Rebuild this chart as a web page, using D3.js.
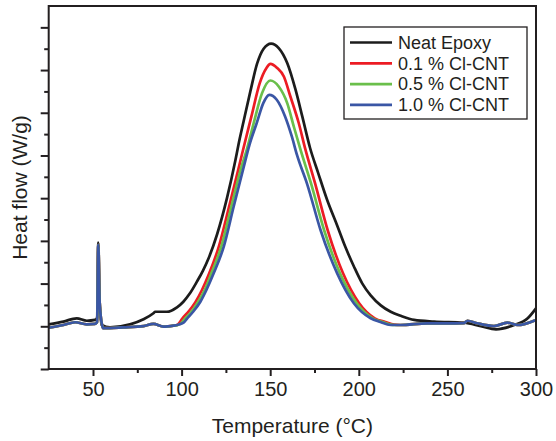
<!DOCTYPE html>
<html>
  <head>
    <meta charset="utf-8">
    <title>DSC Heat Flow</title>
    <script src="https://d3js.org/d3.v7.min.js"></script>
    <style>
      body { margin: 0; background: #fff; }
      svg text { font-family: "Liberation Sans", Arial, sans-serif; fill: #231f20; }
    </style>
  </head>
  <body>

<svg id="dsc-chart" width="556" height="441"></svg>

<script>

  // series names and colours (legend order)
  let seriesNames = ['Neat Epoxy', '0.1 % Cl-CNT', '0.5 % Cl-CNT', '1.0 % Cl-CNT'];
  let seriesColors = ['#1c1c1c', '#ec1c24', '#6abf4b', '#3a56a5'];

  // x axis ticks (temperature, deg C)
  let xMajorTicks = [50, 100, 150, 200, 250, 300];
  let xMinorTicks = [75, 125, 175, 225, 275];

  // y axis has no labels, arbitrary units, baseline at 0
  let yMajorTicks = [-2, 0, 2, 4, 6, 8, 10, 12, 14];
  let yMinorTicks = [-1, 1, 3, 5, 7, 9, 11, 13];

  // [temperature, heat flow]
  let neatEpoxy = [
    [25, 0.09], [33.3, 0.22], [40.8, 0.375], [46.5, 0.26], [51.1, 0.30], [52.3, 0.39],
    [53.0, 3.92], [53.7, 1.23], [54.9, 0.06], [59.6, -0.05], [70.9, 0.09], [78.5, 0.33],
    [84.1, 0.61], [85.1, 0.68], [91.7, 0.68], [97.4, 0.89], [101, 1.15], [104.5, 1.52],
    [108.7, 2.1], [112, 2.6], [115.3, 3.2], [120, 4.3], [125.6, 6.0], [130.3, 7.75], [132.2, 8.55],
    [135, 9.6], [138.8, 11.0], [142.6, 12.3], [146.3, 13.0], [150.5, 13.24], [154.8, 13.03],
    [159.6, 12.33], [164.3, 11.08], [168.1, 9.83], [172.5, 8.35], [177, 7.2], [182, 5.95],
    [187.9, 4.7], [192.5, 3.7], [197.3, 2.79], [202, 2.0], [206.7, 1.45], [212.4, 0.98],
    [218, 0.68], [224, 0.48], [231.2, 0.30], [242.5, 0.22], [259.4, 0.17], [268.9, 0.01],
    [277.4, -0.14], [287.7, 0.06], [295.3, 0.375], [300, 0.84]
  ];

  // the three Cl-CNT runs share the same start and tail
  let cntStart = [
    [25, -0.07], [33.3, 0.06], [39.9, 0.19], [46.5, 0.09], [51.1, 0.11], [52.3, 0.2],
    [53.0, 3.81], [53.7, 1.23], [54.8, 0.2], [55.8, -0.09], [67.1, -0.05], [78.5, 0.01],
    [84.1, 0.11], [89.8, -0.02], [95.4, 0.03]
  ];
  let cntEnd = [
    [223.5, 0.06], [238.6, 0.14], [249.9, 0.14], [259.2, 0.15], [261.3, 0.26], [266.9, 0.14],
    [276.3, 0.01], [283.9, 0.17], [289.5, 0.06], [300, 0.30]
  ];

  let cnt01Peak = [
    [97.4, 0.06], [98.5, 0.14], [100.3, 0.35], [104, 0.7], [107.7, 1.12], [111.5, 1.7],
    [115.6, 2.48], [121, 3.73], [126.8, 5.61], [132.4, 7.48], [134.7, 8.27], [139.4, 9.83],
    [144.1, 11.39], [147.9, 12.1], [150.1, 12.29], [153.9, 12.1], [157.7, 11.7], [161.4, 10.76],
    [166.1, 9.52], [169.9, 8.27], [175.3, 6.7], [182.4, 4.51], [191.1, 2.48], [200.2, 1.08],
    [209, 0.375], [215, 0.2], [220, 0.08]
  ];
  let cnt05Peak = [
    [97.4, 0.05], [99.8, 0.14], [101.8, 0.35], [105.5, 0.68], [109.1, 1.12], [113, 1.7],
    [116.8, 2.48], [122.4, 3.73], [128.1, 5.61], [133.8, 7.48], [136.8, 8.27], [140.7, 9.52],
    [145.4, 10.92], [150.1, 11.51], [154.8, 11.23], [159.6, 10.45], [163.3, 9.36], [167.1, 8.27],
    [173, 6.7], [180.4, 4.51], [189.4, 2.48], [198.8, 1.08], [207.8, 0.375], [213.5, 0.2],
    [219, 0.07]
  ];
  let cnt10Peak = [
    [97.4, 0.06], [101.1, 0.17], [103, 0.35], [106.5, 0.68], [110.6, 1.15], [114, 1.7],
    [118.1, 2.48], [123.8, 3.73], [129.4, 5.61], [135.1, 7.48], [138.3, 8.5], [142.4, 9.52],
    [146.1, 10.45], [149.5, 10.84], [153.7, 10.61], [158.4, 9.83], [162.2, 8.89], [165.2, 8.0],
    [170.9, 6.65], [178.4, 4.51], [187.8, 2.48], [197.2, 1.08], [206.7, 0.375], [212.2, 0.2],
    [217.9, 0.06]
  ];

  let seriesData = [
    neatEpoxy,
    cntStart.concat(cnt01Peak, cntEnd),
    cntStart.concat(cnt05Peak, cntEnd),
    cntStart.concat(cnt10Peak, cntEnd)
  ];

  drawChart();

  function drawChart() {
    let svg = d3.select('#dsc-chart');

    let margin = { top: 6, right: 20, bottom: 72, left: 48.7 };
    let plotWidth = 556 - margin.left - margin.right;   // right edge at 536
    let plotHeight = 441 - margin.top - margin.bottom;  // bottom edge at 369

    let x = d3.scaleLinear().domain([25, 300]).range([0, plotWidth]);
    let y = d3.scaleLinear().domain([-2, 15]).range([plotHeight, 0]);

    let plot = svg.append('g').attr('transform', translate(margin.left, margin.top));

    // curves first, frame drawn over them
    let line = d3.line()
      .x(d => x(d[0]))
      .y(d => y(d[1]))
      .curve(d3.curveMonotoneX);

    plot.selectAll('path.series')
      .data(seriesData)
      .enter().append('path')
      .attr('class', 'series')
      .attr('d', line)
      .attr('fill', 'none')
      .attr('stroke', (d, i) => seriesColors[i])
      .attr('stroke-width', 2.7)
      .attr('stroke-linejoin', 'round');

    // bottom axis: labelled major ticks + short minor ticks
    let xMajor = d3.axisBottom(x).tickValues(xMajorTicks).tickSize(7).tickPadding(6);
    let xMinor = d3.axisBottom(x).tickValues(xMinorTicks).tickSize(4).tickFormat('');

    let xGroup = plot.append('g').attr('transform', translate(0, plotHeight)).call(xMajor);
    plot.append('g').attr('transform', translate(0, plotHeight)).call(xMinor);
    xGroup.selectAll('text').style('font-size', '20px');

    let yMajor = d3.axisLeft(y).tickValues(yMajorTicks).tickSize(8).tickFormat('');
    let yMinor = d3.axisLeft(y).tickValues(yMinorTicks).tickSize(4.5).tickFormat('');
    plot.append('g').call(yMajor);
    plot.append('g').call(yMinor);

    plot.selectAll('.domain').remove();
    plot.selectAll('.tick line').attr('stroke', '#231f20').attr('stroke-width', 2);

    // frame around the plot
    plot.append('rect')
      .attr('width', plotWidth)
      .attr('height', plotHeight)
      .attr('fill', 'none')
      .attr('stroke', '#231f20')
      .attr('stroke-width', 2);

    // axis titles
    svg.append('text')
      .attr('x', margin.left + plotWidth / 2)
      .attr('y', 433)
      .attr('text-anchor', 'middle')
      .style('font-size', '21px')
      .text('Temperature (\u00B0C)');

    svg.append('text')
      .attr('transform', translate(26.5, margin.top + plotHeight / 2) + ' rotate(-90)')
      .attr('text-anchor', 'middle')
      .style('font-size', '21px')
      .text('Heat flow (W/g)');

    // legend
    let legend = svg.append('g').attr('transform', translate(344, 27));
    legend.append('rect')
      .attr('width', 183)
      .attr('height', 92)
      .attr('fill', '#fff')
      .attr('stroke', '#231f20')
      .attr('stroke-width', 1.3);

    let rows = legend.selectAll('g.row')
      .data(seriesNames)
      .enter().append('g')
      .attr('class', 'row')
      .attr('transform', (d, i) => translate(0, 15.5 + i * 20.8));

    rows.append('line')
      .attr('x1', 6).attr('x2', 48)
      .attr('stroke', (d, i) => seriesColors[i])
      .attr('stroke-width', 2.7);

    rows.append('text')
      .attr('x', 54)
      .attr('dy', '0.35em')
      .style('font-size', '18px')
      .text(d => d);
  }

  // helper method to make translating easier
  function translate(x, y) {
    return 'translate(' + x + ',' + y + ')';
  }

</script>
</body>
</html>
